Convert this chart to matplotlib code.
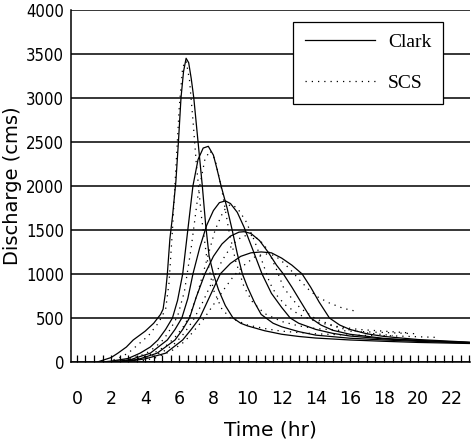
import matplotlib
matplotlib.use("Agg")
import matplotlib.pyplot as plt
from matplotlib.ticker import MultipleLocator

# Clark hydrographs (time hr, discharge cms)
clark1_t = [1.2, 2, 2.4, 2.9, 3.3, 4, 4.5, 4.9, 5.05, 5.2, 5.3, 5.45, 5.6, 5.8, 5.95, 6.1, 6.25, 6.4,
            6.55, 6.7, 6.85, 7.1, 7.35, 7.55, 7.75, 8.0, 8.3, 8.7, 9.15, 9.6, 10, 11, 12, 13, 14, 16, 18, 20, 23]
clark1_q = [0, 50, 100, 170, 250, 350, 440, 540, 600, 800, 1000, 1400, 1650, 2050, 2500, 3000, 3300, 3450,
            3400, 3220, 3000, 2500, 2000, 1550, 1200, 1000, 820, 640, 500, 440, 410, 355, 315, 290, 272, 250, 235, 222, 210]

clark2_t = [1.5, 2, 3, 3.7, 4.3, 4.75, 5.2, 5.6, 5.9, 6.2, 6.5, 6.8, 7.1, 7.4, 7.7, 8.0, 8.2, 8.45, 8.8,
            9.1, 9.4, 9.7, 10.0, 10.4, 10.8, 11.5, 12, 13, 14, 16, 18, 20, 23]
clark2_q = [0, 10, 40, 100, 170, 250, 370, 500, 700, 1000, 1500, 2000, 2300, 2430, 2450, 2350, 2200, 2000, 1750,
            1500, 1230, 1000, 850, 680, 540, 440, 400, 345, 305, 270, 250, 234, 215]

clark3_t = [1.8, 2.5, 3.2, 4.3, 5.3, 5.75, 6.15, 6.5, 6.8, 7.2, 7.6, 8.0, 8.35, 8.7, 9.0, 9.4, 9.8, 10.3,
            10.85, 11.4, 12.0, 12.5, 13, 14, 15, 16, 18, 20, 23]
clark3_q = [0, 10, 30, 100, 250, 370, 500, 720, 1000, 1300, 1550, 1720, 1810, 1830, 1800, 1700, 1530, 1280,
            1000, 780, 620, 500, 440, 370, 325, 295, 262, 243, 220]

clark4_t = [2, 2.8, 3.6, 4.7, 5.75, 6.2, 6.6, 7.0, 7.5, 8.0, 8.5, 9.0, 9.5, 9.8, 10.2, 10.7, 11.2, 11.7,
            12.1, 12.6, 13.1, 13.7, 14.3, 15, 16, 18, 20, 23]
clark4_q = [0, 10, 30, 100, 250, 370, 500, 740, 1000, 1200, 1340, 1430, 1475, 1480, 1460, 1380, 1250, 1100,
            1000, 850, 690, 500, 420, 360, 315, 268, 245, 222]

clark5_t = [2.2, 3, 4, 5.2, 6.2, 6.7, 7.2, 7.8, 8.4, 9, 9.6, 10.2, 10.8, 11.4, 12, 12.6, 13.2, 13.7, 14.2,
            14.8, 15.4, 16, 17, 18, 20, 23]
clark5_q = [0, 10, 35, 100, 250, 370, 500, 750, 1000, 1120, 1200, 1240, 1250, 1240, 1180, 1100, 1000, 850, 680,
            500, 420, 370, 320, 290, 255, 225]

# SCS hydrographs
scs1_t = [1.8, 2.5, 3, 3.6, 4.2, 4.8, 5.2, 5.4, 5.6, 5.8, 6.0, 6.2, 6.4, 6.6, 6.8, 7.0, 7.3, 7.6, 8.0,
          8.5, 9, 10, 11, 12, 14, 16, 18, 21]
scs1_q = [0, 50, 100, 200, 300, 450, 600, 900, 1500, 2200, 2900, 3350, 3420, 3200, 2750, 2250, 1650, 1200, 820,
          600, 500, 420, 380, 350, 320, 305, 300, 280]

scs2_t = [2, 3, 4, 4.6, 5.1, 5.5, 5.9, 6.3, 6.7, 7.1, 7.5, 7.8, 8.1, 8.5, 8.9, 9.3, 9.8, 10.3, 11, 12, 13,
          14, 16, 18, 20]
scs2_q = [0, 30, 90, 170, 260, 380, 520, 800, 1300, 1900, 2300, 2400, 2300, 1950, 1500, 1150, 850, 680, 550, 460, 410,
          380, 350, 335, 320]

scs3_t = [2.5, 3.5, 4.5, 5.2, 5.7, 6.2, 6.6, 7.1, 7.6, 8.1, 8.6, 9.0, 9.4, 9.9, 10.4, 10.9, 11.3, 11.7, 12.2,
          13, 14, 15, 16.5, 18, 19.5]
scs3_q = [0, 30, 100, 180, 270, 390, 520, 800, 1150, 1500, 1720, 1790, 1750, 1600, 1380, 1120, 900, 760, 650,
          540, 460, 410, 370, 350, 330]

scs4_t = [3, 4, 5, 5.8, 6.3, 6.8, 7.3, 7.9, 8.5, 9.1, 9.7, 10.2, 10.7, 11.2, 11.7, 12.1, 12.6, 13.1, 14, 15.4,
          17, 18.5]
scs4_q = [0, 40, 110, 220, 330, 470, 650, 900, 1150, 1330, 1430, 1440, 1390, 1270, 1050, 850, 720, 610, 490, 385,
          330, 300]

scs5_t = [3.5, 4.5, 5.5, 6.3, 6.8, 7.4, 8, 8.6, 9.2, 9.8, 10.4, 11, 11.6, 12.1, 12.6, 13.1, 13.6, 14.1, 14.8,
          15.6, 16.5]
scs5_q = [0, 40, 120, 230, 340, 480, 650, 820, 980, 1100, 1190, 1230, 1210, 1130, 1030, 920, 820, 740, 670,
          610, 570]

clark = [(clark1_t, clark1_q), (clark2_t, clark2_q), (clark3_t, clark3_q), (clark4_t, clark4_q), (clark5_t, clark5_q)]
scs = [(scs1_t, scs1_q), (scs2_t, scs2_q), (scs3_t, scs3_q), (scs4_t, scs4_q), (scs5_t, scs5_q)]

fig = plt.figure(figsize=(4.73, 4.48), dpi=100)
ax = fig.add_axes([0.150, 0.192, 0.844, 0.786])

for i, (t, q) in enumerate(scs):
    ax.plot(t, q, color="k", lw=0.9, ls=(0, (1, 4)), label="SCS" if i == 0 else None)
for i, (t, q) in enumerate(clark):
    ax.plot(t, q, color="k", lw=0.9, label="Clark" if i == 0 else None)

ax.set_xlim(-0.35, 23.05)
ax.set_ylim(0, 4000)
ax.yaxis.set_major_locator(MultipleLocator(500))
ax.xaxis.set_major_locator(MultipleLocator(2))
ax.xaxis.set_minor_locator(MultipleLocator(0.5))
ax.grid(axis="y", color="k", lw=1.1)
ax.set_axisbelow(True)

ax.spines["right"].set_visible(False)
ax.spines["top"].set_visible(False)
for s in ["left", "bottom"]:
    ax.spines[s].set_linewidth(1.1)

ax.tick_params(axis="y", length=0, pad=5)
ax.tick_params(axis="x", which="both", direction="in", length=5, width=0.9, pad=20)
for lab in ax.get_yticklabels():
    lab.set_family("DejaVu Sans")
    lab.set_stretch("condensed")
    lab.set_fontsize(12)
for lab in ax.get_xticklabels():
    lab.set_family("DejaVu Sans")
    lab.set_fontsize(12.5)

ax.set_xlabel("Time (hr)", fontsize=14.5, family="DejaVu Sans", labelpad=9)
ax.set_ylabel("Discharge (cms)", fontsize=14, family="DejaVu Sans", labelpad=3)

h, l = ax.get_legend_handles_labels()
leg = ax.legend(h[::-1], l[::-1], loc="upper left", bbox_to_anchor=(0.556, 0.966), borderaxespad=0,
                prop={"family": "Liberation Serif", "size": 14}, handlelength=3.6, handletextpad=0.7,
                labelspacing=1.2, borderpad=0.6, fancybox=False, framealpha=1, edgecolor="k")
leg.get_frame().set_linewidth(0.9)

fig.savefig("out.png", dpi=100)
plt.close(fig)
